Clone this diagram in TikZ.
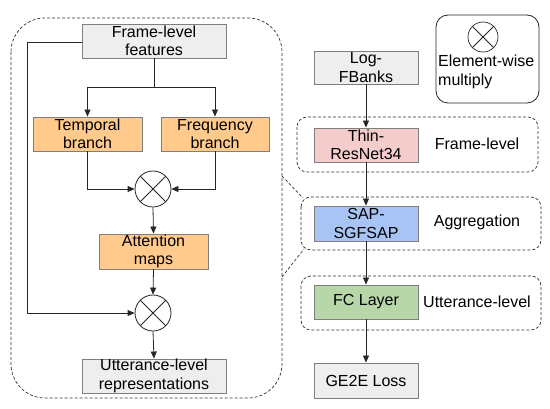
\documentclass[tikz,border=0pt]{standalone}
\usepackage{fontspec}
\setmainfont{Liberation Sans}
\usetikzlibrary{arrows.meta}
\definecolor{boxgray}{HTML}{EEEEEE}
\definecolor{boxorange}{HTML}{FFCA8C}
\definecolor{boxpink}{HTML}{F5CCCC}
\definecolor{boxblue}{HTML}{A8C4F4}
\definecolor{boxgreen}{HTML}{B7D7A8}
\definecolor{edgegray}{HTML}{7F7F7F}
\tikzset{
  blk/.style={draw=edgegray, line width=0.9pt, inner sep=0pt, align=center,
    font=\fontsize{16}{18.5}\selectfont, minimum height=34pt},
  mult/.style={draw=black!85, line width=0.8pt, circle, minimum size=36pt, inner sep=0pt,
    path picture={\draw[black!85, line width=0.8pt]
      (path picture bounding box.north west) -- (path picture bounding box.south east)
      (path picture bounding box.north east) -- (path picture bounding box.south west);}},
  conn/.style={draw=black!85, line width=0.8pt, -{Triangle[length=7pt,width=6pt]}},
  plainconn/.style={draw=black!85, line width=0.8pt},
  grp/.style={draw=black!80, dash pattern=on 3pt off 2pt, line width=0.7pt},
  lbl/.style={font=\fontsize{16}{19}\selectfont, inner sep=0pt}
}
\begin{document}
\begin{tikzpicture}[x=1pt,y=-1pt]
\useasboundingbox (0,0) rectangle (550,409);
% big dashed group
\draw[grp, rounded corners=34pt] (11,18) rectangle (282,398);
% right dashed groups
\draw[grp, rounded corners=10pt] (297,117) rectangle (538,172);
\draw[grp, rounded corners=10pt] (301,197) rectangle (541,250);
\draw[grp, rounded corners=10pt] (301,276) rectangle (541,330);
% links between groups
\coordinate (g1) at (282,176);
\coordinate (g2) at (303,198);
\coordinate (g3) at (282,277);
\coordinate (g4) at (304,249);
\draw[grp] (g1) -- (g2);
\draw[grp] (g3) -- (g4);
% legend
\draw[black!85, line width=0.8pt, rounded corners=12pt] (436,15) rectangle (539,103);
\node[mult, minimum size=30pt, line width=0.7pt] (lc) at (483,37) {};
\node[lbl, align=left, anchor=north west] (lt) at (438,55) {Element-wise\\multiply};
% left side
\node[blk, fill=boxgray, minimum width=144pt] (ff) at (154,41) {Frame-level\\features};
\node[blk, fill=boxorange, minimum width=109pt] (tb) at (87.5,134) {Temporal\\branch};
\node[blk, fill=boxorange, minimum width=108pt] (fb) at (215,134) {Frequency\\branch};
\node[mult] (c1) at (153,189) {};
\node[blk, fill=boxorange, minimum width=109pt, minimum height=35pt] (am) at (153.5,251.5) {Attention\\maps};
\node[mult] (c2) at (153,313) {};
\node[blk, fill=boxgray, minimum width=144pt] (ur) at (154,376) {Utterance-level\\representations};
\coordinate (sp) at (154,87);
\draw[plainconn] (ff.south) -- (sp);
\draw[conn] (sp) -| (tb.north);
\draw[conn] (sp) -| (fb.north);
\draw[conn] (tb.south) |- (c1.west);
\draw[conn] (fb.south) |- (c1.east);
\draw[conn] (c1.south) -- (am.north);
\draw[conn] (am.south) -- (c2.north);
\draw[conn] (c2.south) -- (ur.north);
\coordinate (lk) at (27,42);
\draw[plainconn] (ff.west |- lk) -- (lk);
\draw[conn] (lk) |- (c2.west);
% right side
\node[blk, fill=boxgray, minimum width=104pt, minimum height=33pt] (lf) at (366,67.5) {Log-\\FBanks};
\node[blk, fill=boxpink, minimum width=104pt] (tr) at (366,145) {Thin-\\ResNet34};
\node[blk, fill=boxblue, minimum width=104pt, minimum height=35pt] (sa) at (366,223.5) {SAP-\\SGFSAP};
\node[blk, fill=boxgreen, minimum width=104pt] (fc) at (366,302) {FC Layer};
\node[blk, fill=boxgray, minimum width=104pt, minimum height=35pt] (ge) at (366,380.5) {GE2E Loss};
\draw[conn] (lf.south) -- (tr.north);
\draw[conn] (tr.south) -- (sa.north);
\draw[conn] (sa.south) -- (fc.north);
\draw[conn] (fc.south) -- (ge.north);
\node[lbl] (l1) at (477,144) {Frame-level};
\node[lbl] (l2) at (477,222) {Aggregation};
\node[lbl] (l3) at (477,302) {Utterance-level};
\end{tikzpicture}
\end{document}
